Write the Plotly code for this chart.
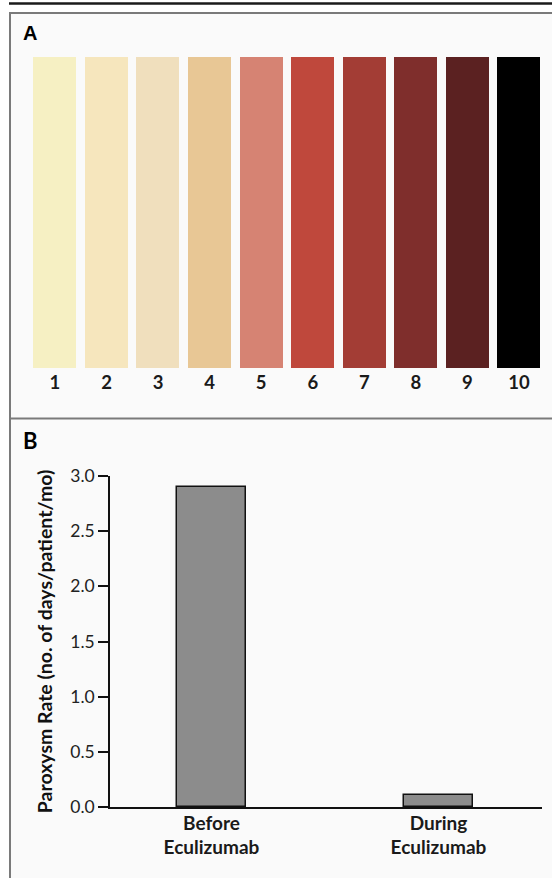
import plotly.graph_objects as go

W, H = 552, 878

# ---- Data ----
swatch_labels = ["1", "2", "3", "4", "5", "6", "7", "8", "9", "10"]
swatch_values = [1, 1, 1, 1, 1, 1, 1, 1, 1, 1]
swatch_colors = ["#f6f0c3", "#f6e6bd", "#f0dfbd", "#e8c795", "#d68373",
                 "#bf483c", "#a33d35", "#7f2e2c", "#5b2121", "#000000"]

rate_categories = ["Before<br>Eculizumab", "During<br>Eculizumab"]
rate_values = [2.9, 0.11]
rate_ticks = [0.0, 0.5, 1.0, 1.5, 2.0, 2.5, 3.0]

def px(x):
    return x / W

def py(y):
    return 1 - y / H

PANEL_BG = "#fafafa"
FRAME = "#7a7a7a"

fig = go.Figure()

fig.add_trace(go.Bar(
    x=swatch_labels, y=swatch_values, marker=dict(color=swatch_colors, line=dict(width=0)),
    width=0.834, xaxis="x", yaxis="y", showlegend=False, hoverinfo="skip"))

fig.add_trace(go.Bar(
    x=rate_categories, y=rate_values,
    marker=dict(color="#8c8c8c", line=dict(color="#111111", width=1.5)),
    width=0.304, xaxis="x2", yaxis="y2", showlegend=False))

fig.update_layout(
    width=W, height=H,
    margin=dict(l=0, r=0, t=0, b=0, pad=0),
    paper_bgcolor="white",
    plot_bgcolor=PANEL_BG,
    bargap=0,
    xaxis=dict(domain=[px(29.2), px(544.8)], range=[-0.5, 9.5], type="category",
               showline=False, showgrid=False, zeroline=False, ticks="",
               tickfont=dict(family="Lato", size=18.5, color="#1a1a1a", weight="bold"),
               ticklabelstandoff=1, anchor="y", fixedrange=True, automargin=False),
    yaxis=dict(domain=[py(368), py(57)], range=[0, 1], visible=False, anchor="x",
               fixedrange=True, automargin=False),
    xaxis2=dict(domain=[px(110), px(542)], range=[-0.447, 1.456], type="category",
                showline=True, linecolor="#111111", linewidth=1.5, showgrid=False,
                zeroline=False, ticks="", anchor="y2",
                tickfont=dict(family="Lato", size=19, color="#1a1a1a", weight="bold"),
                ticklabelstandoff=-2, fixedrange=True, automargin=False),
    yaxis2=dict(domain=[py(807), py(476)], range=[0, 3], anchor="x2",
                showline=True, linecolor="#111111", linewidth=1.5, showgrid=False,
                zeroline=False, ticks="outside", ticklen=10, tickwidth=1.5,
                tickcolor="#111111", tickvals=rate_ticks, tickformat=".1f",
                tickfont=dict(family="Lato", size=17.5, color="#222222"),
                title=dict(text="Paroxysm Rate (no. of days/patient/mo)",
                           font=dict(family="Lato", size=19.5, color="#111111", weight="bold"),
                           standoff=12),
                fixedrange=True, automargin=False),
)

shapes = [
    # panel background
    dict(type="rect", xref="paper", yref="paper", x0=px(10), x1=1, y0=0, y1=py(13),
         fillcolor=PANEL_BG, line=dict(width=0), layer="below"),
    # top black rule
    dict(type="line", xref="paper", yref="paper", x0=px(9), x1=1, y0=py(3.5), y1=py(3.5),
         line=dict(color="#1a1a1a", width=2.5)),
    # frame top
    dict(type="line", xref="paper", yref="paper", x0=px(9), x1=1, y0=py(13), y1=py(13),
         line=dict(color=FRAME, width=2)),
    # frame left
    dict(type="line", xref="paper", yref="paper", x0=px(10), x1=px(10), y0=0, y1=py(12),
         line=dict(color=FRAME, width=2)),
    # divider
    dict(type="line", xref="paper", yref="paper", x0=px(10), x1=1, y0=py(418.5), y1=py(418.5),
         line=dict(color=FRAME, width=2)),
]
fig.update_layout(shapes=shapes)

fig.add_annotation(text="A", xref="paper", yref="paper", x=px(21), y=py(33.5),
                   xanchor="left", yanchor="middle", showarrow=False,
                   font=dict(family="Liberation Sans", size=20, color="#000000", weight="bold"))
fig.add_annotation(text="B", xref="paper", yref="paper", x=px(21), y=py(440),
                   xanchor="left", yanchor="middle", showarrow=False,
                   font=dict(family="Lato", size=22, color="#000000", weight="bold"))

fig.write_html("out.html")
